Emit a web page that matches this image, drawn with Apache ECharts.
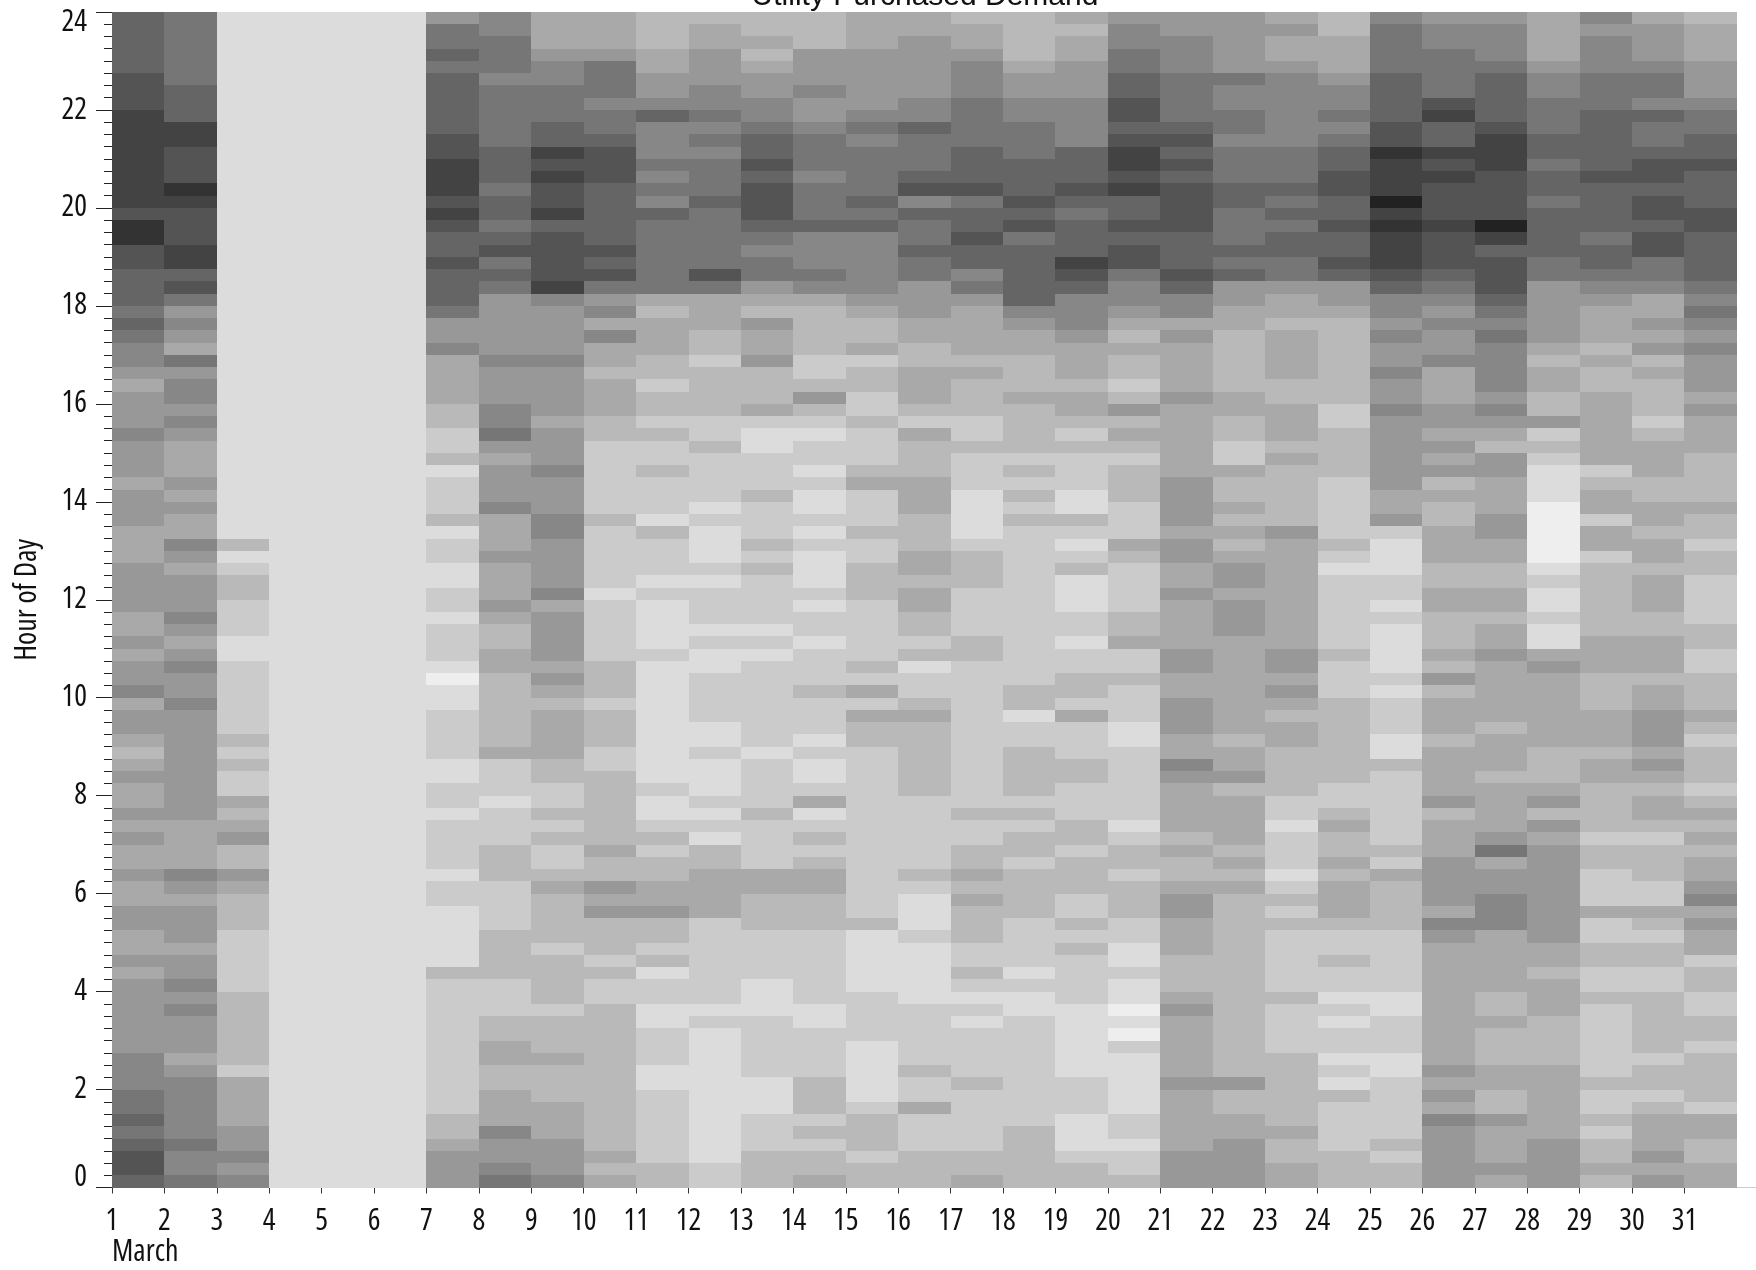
<!DOCTYPE html>
<html>
<head>
<meta charset="utf-8">
<style>html,body{margin:0;padding:0;background:#fff}#chart{width:1756px;height:1270px}</style>
<script src="https://cdn.jsdelivr.net/npm/echarts@6/dist/echarts.min.js"></script>
</head>
<body>
<div id="chart"></div>
<script>
// Demand band per quarter hour, listed from hour 24 (top) down to hour 0. 1 = lowest demand, 13 = highest.
const day01=[9,9,9,9,9,10,10,10,11,11,11,11,11,11,11,11,10,12,12,10,10,9,9,9,8,9,8,7,7,6,5,6,6,6,7,6,6,6,5,6,6,6,5,5,5,6,6,6,
6,5,5,6,5,6,6,7,5,6,6,5,4,5,6,5,5,6,5,6,5,5,6,5,5,6,6,5,5,6,5,6,6,6,6,6,6,7,7,7,8,8,9,8,9,10,10,9];
const day02=[8,8,8,8,8,8,9,9,9,11,11,10,10,10,12,11,10,10,10,11,11,9,10,8,6,7,6,5,8,6,7,7,6,7,6,5,5,5,6,5,6,5,5,7,6,5,6,6,
6,7,6,5,6,7,6,6,7,6,6,6,6,6,6,6,6,6,5,5,5,5,7,6,5,6,6,6,5,6,6,7,6,7,6,6,6,5,6,7,7,7,7,7,8,7,7,8];
const day03=[2,2,2,2,2,2,2,2,2,2,2,2,2,2,2,2,2,2,2,2,2,2,2,2,2,2,2,2,2,2,2,2,2,2,2,2,2,2,2,2,2,2,2,4,2,3,4,4,
3,3,3,2,2,3,3,3,3,3,3,4,3,4,3,3,5,4,5,6,4,4,6,5,4,4,4,3,3,3,3,3,4,4,4,4,4,4,3,5,5,5,5,6,6,7,6,7];
const day04=[2,2,2,2,2,2,2,2,2,2,2,2,2,2,2,2,2,2,2,2,2,2,2,2,2,2,2,2,2,2,2,2,2,2,2,2,2,2,2,2,2,2,2,2,2,2,2,2,
2,2,2,2,2,2,2,2,2,2,2,2,2,2,2,2,2,2,2,2,2,2,2,2,2,2,2,2,2,2,2,2,2,2,2,2,2,2,2,2,2,2,2,2,2,2,2,2];
const day05=[2,2,2,2,2,2,2,2,2,2,2,2,2,2,2,2,2,2,2,2,2,2,2,2,2,2,2,2,2,2,2,2,2,2,2,2,2,2,2,2,2,2,2,2,2,2,2,2,
2,2,2,2,2,2,2,2,2,2,2,2,2,2,2,2,2,2,2,2,2,2,2,2,2,2,2,2,2,2,2,2,2,2,2,2,2,2,2,2,2,2,2,2,2,2,2,2];
const day06=[2,2,2,2,2,2,2,2,2,2,2,2,2,2,2,2,2,2,2,2,2,2,2,2,2,2,2,2,2,2,2,2,2,2,2,2,2,2,2,2,2,2,2,2,2,2,2,2,
2,2,2,2,2,2,2,2,2,2,2,2,2,2,2,2,2,2,2,2,2,2,2,2,2,2,2,2,2,2,2,2,2,2,2,2,2,2,2,2,2,2,2,2,2,2,2,2];
const day07=[6,8,8,9,8,9,9,9,9,9,10,10,11,11,11,10,11,10,9,9,10,9,9,9,8,6,6,7,5,5,5,5,4,4,3,3,4,2,3,3,3,4,2,3,3,2,2,3,
3,2,3,3,3,2,1,2,2,3,3,3,3,2,2,3,3,2,3,3,3,3,2,3,3,2,2,2,2,2,4,3,3,3,3,3,3,3,3,3,3,3,4,4,5,6,6,6];
const day08=[7,7,8,8,8,7,8,8,8,8,8,9,9,9,8,9,9,8,9,10,8,9,8,6,6,6,6,6,7,6,6,6,7,7,8,6,5,6,6,6,7,5,5,5,6,5,5,5,
6,5,4,4,5,5,4,4,4,4,4,4,5,3,3,3,2,3,3,3,4,4,4,3,3,3,3,4,4,4,4,3,3,3,4,4,5,5,4,4,5,5,5,7,6,6,7,8];
const day09=[5,5,5,6,7,7,8,8,8,9,9,11,10,11,10,10,11,9,10,10,10,10,11,7,6,6,6,6,7,6,6,6,6,5,6,6,6,7,6,6,6,7,7,6,6,6,6,7,
5,6,6,6,6,5,6,5,4,5,5,5,5,4,4,3,3,4,3,4,3,3,4,5,4,4,4,4,3,4,4,4,4,3,4,4,4,5,4,4,4,5,5,5,6,6,6,7];
const day10=[5,5,5,6,8,8,8,7,8,8,9,10,10,10,9,9,9,9,9,10,9,10,8,6,7,5,7,5,5,4,5,5,5,4,4,3,3,3,3,3,3,4,3,3,3,3,3,2,
3,3,3,3,3,4,4,4,3,4,4,4,3,3,4,4,4,4,4,4,5,4,4,6,5,6,4,4,4,3,4,3,3,4,4,4,4,4,4,4,4,4,4,4,4,5,4,5];
const day11=[4,4,4,5,5,6,6,7,9,7,7,7,8,7,8,7,9,8,8,8,8,8,8,5,4,5,5,5,4,4,3,4,4,3,4,3,3,4,3,3,3,2,4,3,3,3,2,3,
2,2,2,2,3,2,2,2,2,2,2,2,2,2,2,3,2,2,3,4,3,4,4,5,5,6,4,4,3,4,2,3,3,2,2,3,3,3,2,2,3,3,3,3,3,3,4,4];
const day12=[4,5,5,6,6,6,7,7,8,7,8,7,8,8,8,9,8,8,8,8,8,10,8,5,5,5,4,4,3,4,4,4,4,3,3,4,3,3,3,3,2,3,2,2,2,3,2,3,
3,3,2,3,2,2,3,3,3,3,2,2,3,2,2,2,3,2,3,2,4,4,5,5,5,5,3,3,3,3,3,3,3,2,3,2,2,2,2,2,2,2,2,2,2,2,3,3];
const day13=[4,4,5,4,5,6,6,7,7,8,9,9,10,9,10,10,10,9,8,7,8,8,6,5,4,6,5,5,6,4,4,4,5,3,2,2,3,3,3,4,3,3,3,4,3,4,3,3,
3,3,2,3,2,3,3,3,3,3,3,3,2,3,3,3,3,4,3,3,3,3,5,5,4,4,4,3,3,3,3,2,2,2,3,3,3,3,3,2,2,2,3,3,3,4,4,4];
const day14=[4,4,4,6,6,6,7,6,6,7,8,8,8,7,8,8,8,9,7,7,7,8,7,5,4,4,4,4,3,3,4,6,4,3,2,3,3,2,3,2,2,3,2,3,2,2,2,3,
2,3,3,2,3,3,3,4,3,3,3,2,3,2,2,3,5,2,3,4,3,4,5,5,4,4,4,3,3,3,3,3,3,2,2,3,3,3,3,4,4,4,3,4,3,4,4,5];
const day15=[5,5,5,6,6,6,6,6,7,8,7,8,8,8,8,9,8,9,7,7,7,7,7,6,5,4,4,5,3,4,4,3,3,4,3,3,3,4,5,3,3,3,4,3,3,4,4,4,
3,3,3,3,3,4,3,5,3,5,4,4,3,3,3,3,3,3,3,3,3,3,3,3,3,3,4,2,2,2,2,2,3,3,3,3,2,2,2,2,2,3,4,4,4,3,4,4];
const day16=[5,5,6,6,6,6,6,7,7,9,8,8,8,9,10,7,9,8,8,9,8,8,6,6,6,5,5,4,4,5,5,5,4,3,5,4,4,4,5,5,5,4,4,4,5,5,4,5,
5,4,4,3,4,2,3,3,4,5,4,4,4,4,4,4,3,3,3,3,3,3,4,3,2,2,2,3,2,2,2,2,2,3,3,3,3,3,4,3,3,5,3,3,3,4,4,4];
const day17=[4,5,5,6,7,7,7,8,8,8,8,9,9,9,10,8,9,9,10,9,9,7,8,6,5,5,5,5,4,5,4,4,4,3,3,4,3,3,3,2,2,2,2,3,4,4,4,3,
3,3,3,4,4,3,3,3,3,3,3,3,3,3,3,3,3,4,3,3,4,4,5,4,5,4,4,4,3,3,4,3,2,3,2,3,3,3,3,4,3,3,3,3,3,4,4,5];
const day18=[4,4,4,4,5,6,6,7,7,8,8,8,9,9,9,10,9,10,8,9,9,9,9,9,7,6,5,5,4,4,4,5,4,4,4,4,3,4,3,4,3,4,3,3,3,3,3,3,
3,3,3,3,3,3,3,4,4,2,3,3,4,4,4,4,3,4,3,4,4,3,4,4,4,4,3,3,3,3,2,3,2,2,3,3,3,3,3,3,3,3,3,4,4,4,4,4];
const day19=[5,4,5,5,6,6,6,7,7,7,7,9,9,9,10,9,8,9,9,9,11,10,9,7,7,7,6,5,5,5,4,5,5,4,3,4,3,3,3,2,2,4,3,2,3,4,2,2,
2,3,3,2,3,3,4,4,3,5,3,3,3,4,4,3,3,3,4,4,3,4,4,4,3,3,4,3,4,3,3,3,3,2,2,2,2,2,2,3,3,3,2,2,2,3,4,4];
const day20=[6,7,7,8,8,9,9,10,10,9,10,11,11,10,11,9,9,10,9,10,10,8,7,7,6,5,4,5,4,4,3,4,6,4,5,4,3,4,4,4,3,3,3,5,4,3,3,3,
3,4,4,5,3,3,4,3,3,3,2,2,3,3,3,3,3,3,2,3,4,4,3,4,4,4,3,3,2,2,3,2,2,1,2,1,3,2,2,2,2,2,3,3,2,3,3,4];
const day21=[6,6,7,7,7,8,8,8,8,9,10,9,10,9,10,10,10,10,9,9,9,10,9,7,7,5,6,5,5,5,5,6,5,5,5,5,5,5,6,6,6,6,5,6,6,5,5,6,
5,5,5,5,6,6,5,5,6,6,6,5,5,7,6,5,5,5,5,4,5,4,4,5,6,6,5,5,5,4,4,4,5,6,5,5,5,5,5,6,5,5,5,5,5,6,6,6];
const day22=[6,6,6,6,6,8,7,7,8,8,7,8,8,8,9,9,8,8,8,9,8,9,6,6,5,5,4,4,4,4,4,5,5,4,4,3,3,5,4,4,5,4,5,4,5,6,6,5,
6,6,6,5,5,5,5,5,5,5,5,4,5,5,6,4,5,5,5,5,4,5,4,5,4,4,4,4,4,4,4,4,4,4,4,4,4,4,4,6,4,4,5,5,6,6,6,6];
const day23=[5,6,5,5,6,7,7,7,7,7,7,8,8,8,9,8,9,8,9,9,8,8,6,5,5,4,5,5,5,5,4,4,5,5,5,4,5,4,4,4,4,4,6,5,5,5,5,5,
5,5,5,5,6,6,5,6,5,4,5,5,4,4,4,4,3,3,2,3,3,3,2,3,4,3,4,3,3,3,3,3,4,3,3,3,3,4,4,4,4,4,4,5,4,4,5,5];
const day24=[4,4,5,5,5,6,7,7,8,7,8,9,9,10,10,9,9,10,9,9,10,9,6,6,5,4,4,4,4,4,4,4,3,3,4,4,4,4,3,3,3,3,3,4,3,2,3,3,
3,3,3,3,4,3,3,3,4,4,4,4,4,4,4,3,3,4,5,4,4,5,4,5,5,5,4,3,3,4,3,3,2,3,2,3,3,2,3,2,4,3,3,3,3,4,4,4];
const day25=[7,8,8,8,8,9,9,9,9,10,10,12,11,11,11,13,11,12,11,11,11,10,9,7,7,6,7,6,6,7,6,6,7,6,6,6,6,6,6,5,5,6,3,2,2,2,3,3,
2,3,2,2,2,2,3,2,3,3,3,2,2,4,3,3,3,3,3,3,4,3,5,4,4,4,4,3,3,3,3,3,2,2,3,3,3,2,2,3,3,3,3,3,4,3,4,4];
const day26=[6,7,7,8,8,8,8,10,11,9,9,11,10,11,10,10,10,11,10,10,10,9,8,7,6,7,6,6,7,5,5,5,6,6,5,6,5,6,4,5,4,4,5,5,5,4,4,5,
5,4,4,4,5,4,6,4,5,5,5,4,5,5,5,5,6,4,5,5,5,6,6,6,6,5,7,6,5,5,5,5,5,5,5,5,5,5,6,5,6,5,7,6,6,6,6,6];
const day27=[6,7,7,7,8,9,9,9,9,10,11,11,11,10,10,10,10,13,11,9,10,10,10,9,8,7,8,7,7,7,7,6,7,6,5,4,6,6,5,5,5,6,6,5,5,4,4,5,
5,4,5,5,6,5,5,5,5,5,4,5,5,5,4,5,5,5,5,6,8,5,6,6,7,7,7,5,5,5,5,5,4,4,5,4,4,4,5,5,4,4,6,5,5,5,6,5];
const day28=[5,5,5,5,6,7,7,8,8,8,9,9,8,9,9,8,9,9,9,9,8,8,6,6,6,6,6,5,4,5,5,4,4,6,3,4,3,2,2,2,1,1,1,1,1,2,3,2,
2,3,2,2,5,6,5,5,5,5,5,5,4,4,4,5,6,4,6,5,6,6,6,6,6,6,6,6,5,5,4,5,5,5,4,4,4,4,5,5,5,5,5,5,6,6,6,6];
const day29=[7,6,7,7,7,8,8,8,9,9,9,9,9,10,9,9,9,9,8,9,9,8,7,6,5,5,5,4,5,4,4,5,5,5,5,5,5,3,4,5,5,3,5,5,3,4,4,4,
4,4,4,5,5,5,4,4,4,5,5,5,4,5,5,4,4,4,4,3,4,4,3,3,3,5,3,3,4,4,3,3,4,3,3,3,3,3,3,4,3,3,4,3,4,4,5,4];
const day30=[5,6,6,6,7,8,8,7,9,8,8,9,10,10,9,10,10,9,10,10,8,8,7,5,5,6,5,6,4,5,4,4,4,3,4,5,5,5,4,4,5,5,4,5,5,4,5,5,
5,4,4,5,5,5,4,5,5,6,6,6,5,6,5,4,5,5,4,3,4,4,4,3,3,5,4,3,4,4,3,3,4,4,4,4,4,3,4,4,3,4,5,5,5,6,5,6];
const day31=[4,5,5,5,6,6,6,7,8,8,9,9,10,9,9,9,10,10,9,9,9,9,8,7,8,7,6,7,6,6,6,5,6,5,5,5,4,4,4,4,5,4,4,3,4,4,3,3,
3,3,4,4,3,3,4,4,4,5,4,3,4,4,4,3,4,5,4,5,4,5,5,6,7,5,6,5,5,3,4,4,3,3,4,4,3,4,4,4,4,3,5,5,4,4,5,5];

const dayColumns=[day01,day02,day03,day04,day05,day06,day07,day08,day09,day10,day11,day12,day13,day14,day15,day16,day17,day18,day19,day20,day21,day22,day23,day24,day25,day26,day27,day28,day29,day30,day31];
const dayTicks=[1,2,3,4,5,6,7,8,9,10,11,12,13,14,15,16,17,18,19,20,21,22,23,24,25,26,27,28,29,30,31];
const shades=['#ffffff','#eeeeee','#dcdcdc','#cbcbcb','#b9b9b9','#a9a9a9','#989898','#878787','#767676','#656565','#545454','#434343','#333333','#222222'];
const labelFont='"Open Sans","Liberation Sans",sans-serif';
const labelStretch='condensed';
const cells=[];
dayColumns.forEach(function(col,d){
  col.forEach(function(level,k){
    cells.push([dayTicks[d],24-(k+1)/4,level]);
  });
});
const chart=echarts.init(document.getElementById('chart'),null,{renderer:'canvas'});
chart.setOption({
  animation:false,
  backgroundColor:'#ffffff',
  title:{text:'Utility Purchased Demand',left:925,top:-18,textAlign:'center',padding:0,
    textStyle:{fontFamily:'"Liberation Sans",sans-serif',fontSize:30,fontWeight:'normal',color:'#111'}},
  grid:{left:112,right:0,top:12,height:1175.5,containLabel:false,outerBoundsMode:'none'},
  xAxis:[{
    type:'value',min:1,max:32.365,interval:1,position:'bottom',
    splitLine:{show:false},
    name:'March',nameLocation:'start',nameGap:0,
    nameTextStyle:{align:'left',verticalAlign:'top',fontFamily:labelFont,fontWeight:labelStretch,fontSize:30,color:'#111',padding:[50,0,0,0]},
    axisLine:{show:true,onZero:false,lineStyle:{color:'#cccccc',width:1}},
    axisTick:{show:true,length:6,customValues:dayTicks,lineStyle:{color:'#333',width:1}},
    axisLabel:{show:true,customValues:dayTicks,margin:23,fontFamily:labelFont,fontWeight:labelStretch,fontSize:30,lineHeight:21,color:'#111',formatter:'{value}'}
  },{
    type:'value',min:1,max:32.365,interval:1,position:'top',
    splitLine:{show:false},
    axisLine:{show:false},
    axisTick:{show:true,length:5,customValues:dayTicks,lineStyle:{color:'#333',width:1}},
    axisLabel:{show:false}
  }],
  yAxis:{
    type:'value',min:0,max:24,interval:2,position:'left',
    splitLine:{show:false},
    name:'Hour of Day',nameLocation:'middle',nameGap:70,nameRotate:90,
    nameTextStyle:{fontFamily:labelFont,fontWeight:labelStretch,fontSize:30,color:'#111'},
    axisLine:{show:false,onZero:false},
    axisTick:{show:true,length:16,lineStyle:{color:'#222',width:1}},
    minorTick:{show:true,splitNumber:8,length:8,lineStyle:{color:'#222',width:1}},
    minorSplitLine:{show:false},
    axisLabel:{show:true,margin:25,fontFamily:labelFont,fontWeight:labelStretch,fontSize:30,lineHeight:21,color:'#111',
      verticalAlignMinLabel:'bottom',verticalAlignMaxLabel:'top'}
  },
  series:[{
    type:'custom',
    xAxisIndex:0,yAxisIndex:0,
    data:cells,
    clip:false,silent:true,
    encode:{x:0,y:1},
    renderItem:function(params,api){
      const a=api.coord([api.value(0),api.value(1)+0.25]);
      const b=api.coord([api.value(0)+1,api.value(1)]);
      const x0=Math.round(a[0]),y0=Math.round(a[1]),x1=Math.round(b[0]),y1=Math.round(b[1]);
      return {type:'rect',shape:{x:x0,y:y0,width:x1-x0,height:y1-y0},style:{fill:shades[api.value(2)],stroke:null}};
    }
  }]
});
</script>
</body>
</html>
